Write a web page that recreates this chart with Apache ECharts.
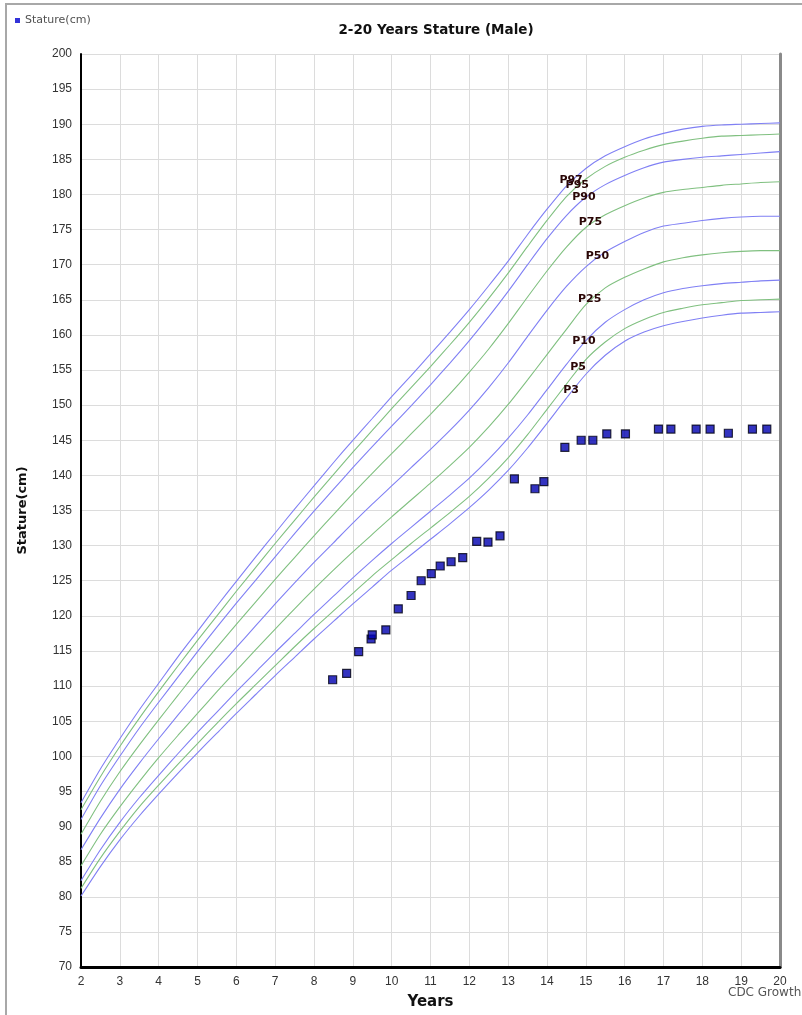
<!DOCTYPE html>
<html>
<head>
<meta charset="utf-8">
<script src="https://cdn.jsdelivr.net/npm/echarts@6/dist/echarts.min.js"></script>
<style>
html,body{margin:0;padding:0;background:#fff;}
#chart{width:802px;height:1015px;}
</style>
</head>
<body>
<div id="chart"></div>
<script>
// ---- data ----
const ages = [2,2.5,3,3.5,4,4.5,5,5.5,6,6.5,7,7.5,8,8.5,9,9.5,10,10.5,11,11.5,12,12.5,13,13.5,14,14.5,15,15.5,16,16.5,17,17.5,18,18.5,19,19.5,20];
const P97 = [93.4,98.2,102.5,106.6,110.4,114.2,117.8,121.4,124.9,128.4,131.8,135.2,138.5,141.8,145.0,148.1,151.2,154.2,157.3,160.4,163.6,167.0,170.5,174.3,177.9,181.2,183.7,185.5,186.8,187.9,188.7,189.3,189.7,189.9,190.0,190.1,190.2];
const P95 = [92.4,97.1,101.4,105.4,109.2,112.9,116.5,120.0,123.5,126.9,130.3,133.6,136.9,140.1,143.3,146.4,149.5,152.5,155.5,158.6,161.8,165.2,168.8,172.6,176.3,179.7,182.2,184.0,185.3,186.3,187.1,187.6,188.0,188.3,188.4,188.5,188.6];
const P90 = [91.0,95.8,100.0,104.0,107.7,111.3,114.9,118.4,121.8,125.1,128.4,131.7,134.9,138.0,141.1,144.1,147.0,149.9,152.9,156.0,159.2,162.6,166.2,170.0,173.7,177.0,179.6,181.4,182.7,183.8,184.6,185.0,185.3,185.5,185.7,185.9,186.1];
const P75 = [88.9,93.6,97.8,101.6,105.2,108.7,112.2,115.5,118.8,122.0,125.2,128.3,131.4,134.4,137.4,140.3,143.1,145.9,148.7,151.6,154.7,158.0,161.6,165.4,169.1,172.5,175.3,177.1,178.4,179.5,180.3,180.7,181.0,181.3,181.5,181.7,181.8];
const P50 = [86.7,91.2,95.3,99.0,102.5,105.9,109.2,112.4,115.5,118.6,121.7,124.7,127.6,130.4,133.2,135.9,138.5,141.1,143.7,146.4,149.3,152.5,156.0,159.8,163.5,166.9,169.7,171.8,173.3,174.6,175.5,175.9,176.3,176.6,176.8,176.9,176.9];
const P25 = [84.4,88.9,92.8,96.4,99.8,103.0,106.1,109.2,112.2,115.2,118.1,121.0,123.8,126.5,129.1,131.6,134.1,136.5,138.9,141.4,144.0,146.9,150.1,153.6,157.2,160.8,164.3,166.7,168.2,169.4,170.4,171.0,171.4,171.7,171.9,172.0,172.0];
const P10 = [82.3,86.7,90.6,94.1,97.3,100.4,103.4,106.3,109.2,112.0,114.8,117.5,120.2,122.8,125.4,127.9,130.3,132.6,134.9,137.2,139.6,142.3,145.3,148.6,152.2,155.8,159.2,161.8,163.6,165.0,166.0,166.6,167.0,167.3,167.5,167.7,167.8];
const P5  = [81.2,85.5,89.3,92.8,95.9,98.9,101.8,104.7,107.5,110.2,112.9,115.6,118.2,120.7,123.2,125.7,128.0,130.3,132.5,134.7,137.0,139.6,142.5,145.8,149.4,153.0,156.5,159.0,160.9,162.2,163.2,163.8,164.3,164.6,164.9,165.0,165.1];
const P3  = [80.1,84.3,88.1,91.5,94.6,97.6,100.5,103.3,106.1,108.8,111.5,114.1,116.7,119.2,121.7,124.1,126.5,128.7,130.9,133.1,135.4,137.9,140.7,143.9,147.4,151.0,154.4,157.1,159.1,160.4,161.3,161.9,162.4,162.8,163.1,163.2,163.3];

const percentileNames = ['P97','P95','P90','P75','P50','P25','P10','P5','P3'];
const percentileValues = [P97,P95,P90,P75,P50,P25,P10,P5,P3];
const labelAges = [14.62,14.78,14.95,15.12,15.3,15.1,14.95,14.8,14.62];

const measureAges   = [8.48,8.84,9.15,9.47,9.50,9.85,10.17,10.50,10.76,11.02,11.25,11.53,11.83,12.19,12.48,12.79,13.16,13.69,13.92,14.46,14.88,15.18,15.54,16.02,16.87,17.19,17.84,18.20,18.67,19.29,19.66];
const measureStature= [110.9,111.8,114.9,116.7,117.3,118.0,121.0,122.9,125.0,126.0,127.1,127.7,128.3,130.6,130.5,131.4,139.5,138.1,139.1,144.0,145.0,145.0,145.9,145.9,146.6,146.6,146.6,146.6,146.0,146.6,146.6];

const xTicks = {min:2, max:20, step:1};
const yTicks = {min:70, max:200, step:5};

// ---- chart ----
const chart = echarts.init(document.getElementById('chart'));
const FONT = '"Liberation Sans", Arial, sans-serif';
const WIDE = '"DejaVu Sans", Verdana, sans-serif';

function interp(arr, age){
  for (let i=0;i<ages.length-1;i++){
    if (age>=ages[i] && age<=ages[i+1]){
      const t=(age-ages[i])/(ages[i+1]-ages[i]);
      return arr[i]+(arr[i+1]-arr[i])*t;
    }
  }
  return arr[arr.length-1];
}

const blue = '#8080f4', green = '#80c080';
const series = percentileNames.map((n,k)=>{
  const c = k%2===0 ? blue : green;
  return {
    name:n, type:'line', silent:true, showSymbol:false, symbol:'none', smooth:0.25,
    data: ages.map((a,i)=>[a, percentileValues[k][i]]),
    color:c,
    itemStyle:{color:c},
    lineStyle:{width:1.1, color:c},
    emphasis:{disabled:true},
    z:2,
    markPoint:{
      symbol:'circle', symbolSize:1, silent:true,
      itemStyle:{color:'rgba(0,0,0,0)'},
      data:[{coord:[labelAges[k], interp(percentileValues[k], labelAges[k])], value:n}],
      label:{show:true, position:'inside', offset:[0,-2], formatter:n, color:'#2a0606', fontFamily:WIDE, fontSize:11, fontWeight:'bold'}
    }
  };
});

series.push({
  name:'Stature(cm)', type:'scatter', symbol:'rect', symbolSize:8, z:5,
  data: measureAges.map((a,i)=>[a, measureStature[i]]),
  itemStyle:{color:'#0000b0', borderColor:'#000010', borderWidth:1.2}
});

chart.setOption({
  animation:false,
  backgroundColor:'#fff',
  title:{text:'2-20 Years Stature (Male)', left:431, top:18, textAlign:'center',
    textStyle:{fontFamily:WIDE, fontSize:13.5, fontWeight:'bold', color:'#111'}},
  legend:{data:[{name:'Stature(cm)', itemStyle:{borderWidth:0, color:'#0000d0'}}], left:10, top:10, itemWidth:5, itemHeight:5, itemGap:7,
    textStyle:{fontFamily:WIDE, fontSize:11, color:'#505050'}},
  grid:{left:81, right:22, top:54, bottom:47, containLabel:false},
  xAxis:{type:'value', min:xTicks.min, max:xTicks.max, interval:xTicks.step,
    name:'Years', nameLocation:'middle', nameGap:28,
    nameTextStyle:{fontFamily:WIDE, fontSize:15, fontWeight:'bold', color:'#111'},
    axisLine:{show:true, onZero:false, lineStyle:{color:'#000', width:3}},
    axisTick:{show:false},
    axisLabel:{fontFamily:FONT, fontSize:12, color:'#333', margin:9},
    splitLine:{show:true, lineStyle:{color:'#dcdcdc', width:1}}},
  yAxis:[{type:'value', min:yTicks.min, max:yTicks.max, interval:yTicks.step,
    name:'Stature(cm)', nameLocation:'middle', nameGap:52, nameRotate:90,
    nameTextStyle:{fontFamily:WIDE, fontSize:13, fontWeight:'bold', color:'#111'},
    axisLine:{show:true, onZero:false, lineStyle:{color:'#000', width:2}},
    axisTick:{show:false},
    axisLabel:{fontFamily:FONT, fontSize:12, color:'#333', margin:9},
    splitLine:{show:true, lineStyle:{color:'#dcdcdc', width:1}}},
   {type:'value', position:'right', min:yTicks.min, max:yTicks.max, interval:yTicks.step,
    axisLine:{show:true, onZero:false, lineStyle:{color:'#8a8a8a', width:3}},
    axisTick:{show:false}, axisLabel:{show:false}, splitLine:{show:false}}],
  graphic:[
    {type:'rect', shape:{x:6, y:4, width:820, height:1030}, silent:true,
      style:{fill:'none', stroke:'#a8a8a8', lineWidth:2}},
    {type:'text', left:728, top:987, silent:true,
      style:{text:'CDC Growth', fontFamily:WIDE, fontSize:12, fill:'#555'}}
  ],
  series: series
});
</script>
</body>
</html>
